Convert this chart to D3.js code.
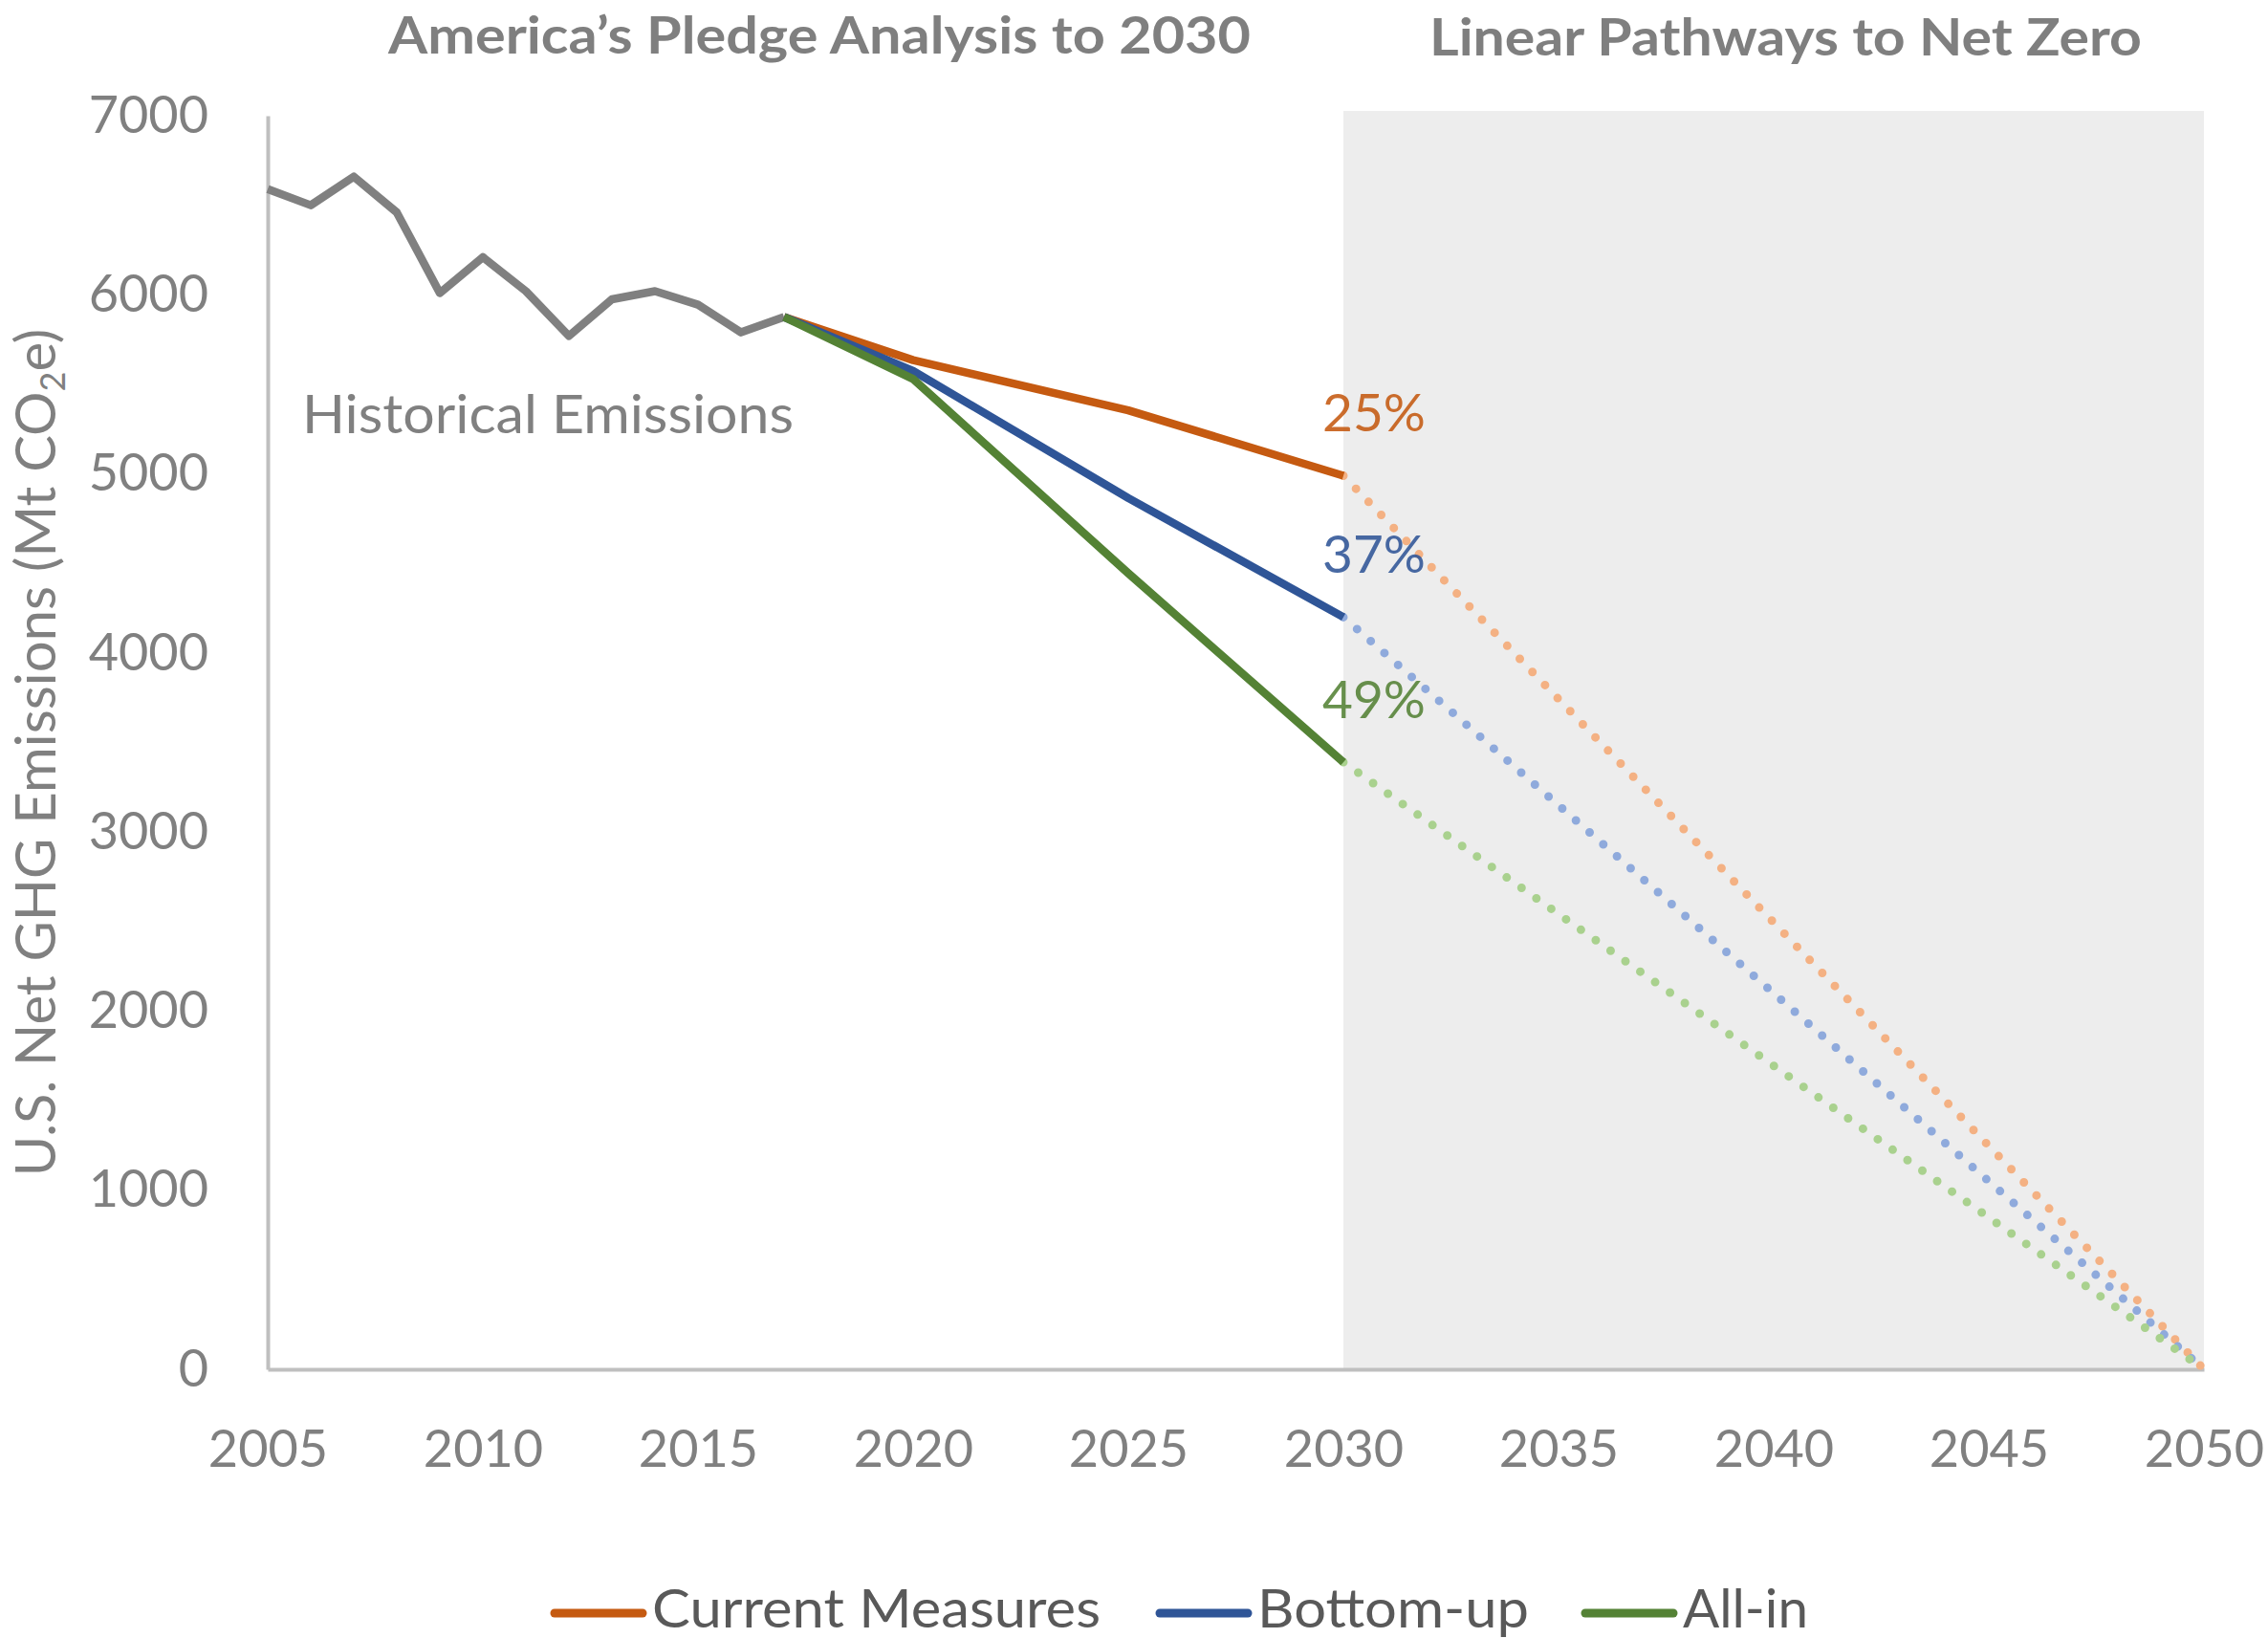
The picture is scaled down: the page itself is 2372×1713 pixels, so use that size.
<!DOCTYPE html>
<html>
<head>
<meta charset="utf-8">
<script src="https://cdn.jsdelivr.net/npm/d3@7"></script>
<style>
  body { margin: 0; background: #fff; }
  text { font-family: Lato, "Open Sans", sans-serif; }
</style>
</head>
<body>
<div id="container"></div>
<script>
// DATA
const histYears = [2005, 2006, 2007, 2008, 2009, 2010, 2011, 2012, 2013, 2014, 2015, 2016, 2017];
const histValues = [6590, 6500, 6660, 6460, 6010, 6210, 6020, 5770, 5975, 6020, 5945, 5790, 5876];
const projYears = [2017, 2020, 2025, 2030];
const currentMeasures = [5876, 5635, 5355, 4990];
const bottomUp = [5876, 5575, 4865, 4200];
const allIn = [5876, 5530, 4445, 3390];
const netZeroYears = [2030, 2050];
const netZeroValue = 0;
const seriesNames = ["Current Measures", "Bottom-up", "All-in"];
const pctLabels = ["25%", "37%", "49%"];
const yTicks = [0, 1000, 2000, 3000, 4000, 5000, 6000, 7000];
const xTicks = [2005, 2010, 2015, 2020, 2025, 2030, 2035, 2040, 2045, 2050];

const width = 2372;
const height = 1713;
const plot = { left: 280, right: 2305, top: 121, bottom: 1432 };

const colors = ["#c55a11", "#2f5597", "#548235"];
const lightColors = ["#f4b183", "#8faadc", "#a9d18e"];
const gray = "#808080";

const svg = d3
  .create("svg")
  .attr("width", width)
  .attr("height", height)
  .attr("viewBox", `0 0 ${width} ${height}`);

svg.append("rect").attr("width", width).attr("height", height).attr("fill", "#fff");

// SCALES
const xScale = d3.scaleLinear().domain([2005, 2050]).range([plot.left, plot.right]);
const yScale = d3.scaleLinear().domain([0, 7000]).range([plot.bottom, plot.top]);

// SHADED NET ZERO REGION
svg
  .append("rect")
  .attr("x", xScale(2030))
  .attr("y", yScale(7000) - 5)
  .attr("width", xScale(2050) - xScale(2030))
  .attr("height", yScale(0) - yScale(7000) + 5)
  .attr("fill", "#ededed");

// AXES
const yAxis = d3.axisLeft(yScale).tickValues(yTicks).tickSize(0).tickSizeOuter(0).tickPadding(62).tickFormat(d3.format("d"));
const xAxis = d3.axisBottom(xScale).tickValues(xTicks).tickSize(0).tickSizeOuter(0).tickPadding(64).tickFormat(d3.format("d"));

const gy = svg.append("g").attr("transform", `translate(${plot.left},0)`).call(yAxis);
const gx = svg.append("g").attr("transform", `translate(0,${plot.bottom})`).call(xAxis);

[gx, gy].forEach((g) => {
  g.select(".domain").attr("stroke", "#bfbfbf").attr("stroke-width", 4);
  g.selectAll("text").attr("fill", gray).attr("font-size", 54).attr("font-family", "Lato");
});

// Y AXIS TITLE
const yTitle = svg
  .append("text")
  .attr("transform", `translate(58,787) rotate(-90)`)
  .attr("text-anchor", "middle")
  .attr("fill", gray)
  .attr("font-size", 58);
yTitle.append("tspan").text("U.S. Net GHG Emissions (Mt CO");
yTitle.append("tspan").attr("font-size", 36).attr("dy", 10).text("2");
yTitle.append("tspan").attr("dy", -10).text("e)");

// TITLES
svg
  .append("text")
  .attr("x", 406)
  .attr("y", 56)
  .attr("textLength", 902)
  .attr("lengthAdjust", "spacingAndGlyphs")
  .attr("font-size", 54)
  .attr("font-weight", "bold")
  .attr("fill", "#7f7f7f")
  .text("America’s Pledge Analysis to 2030");

svg
  .append("text")
  .attr("x", 1495)
  .attr("y", 58)
  .attr("textLength", 745)
  .attr("lengthAdjust", "spacingAndGlyphs")
  .attr("font-size", 54)
  .attr("font-weight", "bold")
  .attr("fill", "#7f7f7f")
  .text("Linear Pathways to Net Zero");

// LINES
const line = d3
  .line()
  .x((d) => xScale(d[0]))
  .y((d) => yScale(d[1]));

const projections = [currentMeasures, bottomUp, allIn];

// dotted linear pathways to zero
projections.forEach((vals, i) => {
  const pts = [
    [netZeroYears[0], vals[vals.length - 1]],
    [netZeroYears[1], netZeroValue],
  ];
  svg
    .append("path")
    .attr("d", line(pts))
    .attr("fill", "none")
    .attr("stroke", lightColors[i])
    .attr("stroke-width", 9)
    .attr("stroke-linecap", "round")
    .attr("stroke-dasharray", "0 19");
});

// historical
svg
  .append("path")
  .attr("d", line(histYears.map((y, i) => [y, histValues[i]])))
  .attr("fill", "none")
  .attr("stroke", gray)
  .attr("stroke-width", 8.5)
  .attr("stroke-linejoin", "round");

projections.forEach((vals, i) => {
  svg
    .append("path")
    .attr("d", line(projYears.map((y, j) => [y, vals[j]])))
    .attr("fill", "none")
    .attr("stroke", colors[i])
    .attr("stroke-width", 8.5)
    .attr("stroke-linejoin", "round");
});

// LABELS
svg
  .append("text")
  .attr("x", 316)
  .attr("y", 453)
  .attr("textLength", 514)
  .attr("lengthAdjust", "spacingAndGlyphs")
  .attr("font-size", 56)
  .attr("fill", gray)
  .text("Historical Emissions");

projections.forEach((vals, i) => {
  svg
    .append("text")
    .attr("x", xScale(2030) - 22)
    .attr("y", yScale(vals[vals.length - 1]) - 46)
    .attr("font-size", 55)
    .attr("fill", colors[i])
    .attr("opacity", 0.88)
    .text(pctLabels[i]);
});

// LEGEND
const legendX = [580, 1213, 1658];
const legendTextWidth = [469, 284, 131];
const legend = svg
  .append("g")
  .selectAll("g")
  .data(seriesNames)
  .join("g")
  .attr("transform", (d, i) => `translate(${legendX[i]},1687)`);

legend
  .append("line")
  .attr("x1", 0)
  .attr("x2", 92)
  .attr("stroke", (d, i) => colors[i])
  .attr("stroke-width", 9)
  .attr("stroke-linecap", "round");

legend
  .append("text")
  .attr("x", 102)
  .attr("y", 15)
  .attr("font-size", 56)
  .attr("textLength", (d, i) => legendTextWidth[i])
  .attr("lengthAdjust", "spacingAndGlyphs")
  .attr("fill", "#595959")
  .text((d) => d);

document.getElementById("container").append(svg.node());
</script>
</body>
</html>
